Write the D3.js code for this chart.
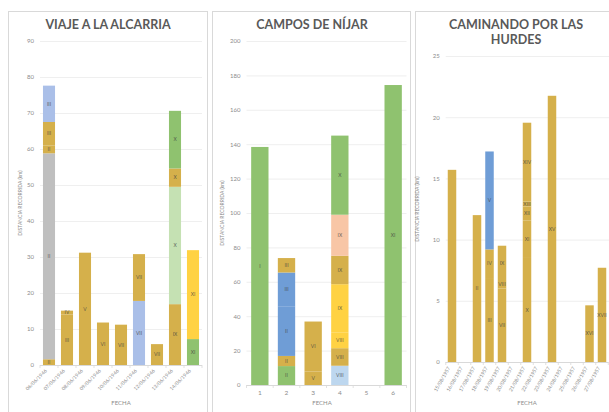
<!DOCTYPE html>
<html>
<head>
<meta charset="utf-8">
<script src="https://cdn.jsdelivr.net/npm/d3@7"></script>
<style>
  html, body { margin: 0; padding: 0; background: #ffffff; }
  svg { display: block; font-family: Lato, "Open Sans", sans-serif; }
</style>
</head>
<body>
<svg id="chart" width="609" height="412"></svg>
<script>
// ---------- DATA ----------
const alcarriaTitle = ["VIAJE A LA ALCARRIA"];
const nijarTitle = ["CAMPOS DE NÍJAR"];
const hurdesTitle = ["CAMINANDO POR LAS", "HURDES"];

const alcarriaDates = ["06/06/1946","07/06/1946","08/06/1946","09/06/1946","10/06/1946",
                       "11/06/1946","12/06/1946","13/06/1946","14/06/1946"];
const alcarriaTicks = [0,10,20,30,40,50,60,70,80,90];
// [date, km, chapter, group]
const alcarriaSegments = [
  ["06/06/1946", 1.6, "II", "gold"],
  ["06/06/1946", 57.2, "II", "gray"],
  ["06/06/1946", 2.2, "II", "gold"],
  ["06/06/1946", 6.5, "III", "gold"],
  ["06/06/1946", 10.1, "III", "lightblue"],
  ["07/06/1946", 14.0, "III", "gold"],
  ["07/06/1946", 1.1, "IV", "gold"],
  ["08/06/1946", 31.2, "V", "gold"],
  ["09/06/1946", 11.8, "VI", "gold"],
  ["10/06/1946", 11.2, "VII", "gold"],
  ["11/06/1946", 17.8, "VII", "lightblue"],
  ["11/06/1946", 13.0, "VII", "gold"],
  ["12/06/1946", 5.8, "VII", "gold"],
  ["13/06/1946", 16.9, "IX", "gold"],
  ["13/06/1946", 32.6, "X", "lightgreen"],
  ["13/06/1946", 5.1, "X", "gold"],
  ["13/06/1946", 16.0, "X", "green"],
  ["14/06/1946", 7.2, "XI", "green"],
  ["14/06/1946", 24.7, "XI", "yellow"]
];

const nijarDays = ["1","2","3","4","5","6"];
const nijarTicks = [0,20,40,60,80,100,120,140,160,180,200];
const nijarSegments = [
  ["1", 138.4, "I", "green"],
  ["2", 11.0, "II", "green"],
  ["2", 5.9, "II", "gold"],
  ["2", 28.9, "II", "blue"],
  ["2", 19.6, "III", "blue"],
  ["2", 8.4, "III", "gold"],
  ["3", 7.8, "V", "gold"],
  ["3", 29.1, "VI", "gold"],
  ["4", 11.2, "VIII", "paleblue"],
  ["4", 10.2, "VIII", "gold"],
  ["4", 9.0, "VIII", "yellow"],
  ["4", 28.2, "IX", "yellow"],
  ["4", 16.5, "IX", "gold"],
  ["4", 23.9, "IX", "peach"],
  ["4", 46.0, "X", "green"],
  ["6", 174.4, "XI", "green"]
];

const hurdesDates = ["15/08/1957","16/08/1957","17/08/1957","18/08/1957","19/08/1957",
                     "20/08/1957","21/08/1957","22/08/1957","23/08/1957","24/08/1957",
                     "25/08/1957","26/08/1957","27/08/1957"];
const hurdesTicks = [0,5,10,15,20,25];
const hurdesSegments = [
  ["15/08/1957", 15.7, "", "gold"],
  ["17/08/1957", 12.0, "II", "gold"],
  ["18/08/1957", 6.86, "III", "gold"],
  ["18/08/1957", 2.34, "IV", "gold"],
  ["18/08/1957", 8.0, "V", "blue"],
  ["19/08/1957", 6.0, "VII", "gold"],
  ["19/08/1957", 0.7, "VIII", "gold"],
  ["19/08/1957", 2.8, "IX", "gold"],
  ["21/08/1957", 8.5, "X", "gold"],
  ["21/08/1957", 3.05, "XI", "gold"],
  ["21/08/1957", 1.15, "XII", "gold"],
  ["21/08/1957", 0.4, "XIII", "gold"],
  ["21/08/1957", 6.45, "XIV", "gold"],
  ["23/08/1957", 21.75, "XV", "gold"],
  ["26/08/1957", 4.63, "XVI", "gold"],
  ["27/08/1957", 7.7, "XVII", "gold"]
];

const yAxisTitle = "DISTANCIA RECORRIDA (km)";
const xAxisTitle = "FECHA";

// ---------- STYLE ----------
const colors = {
  gold: "#d5b04b",
  gray: "#bfbfbf",
  lightblue: "#aabfe8",
  lightgreen: "#c5e1b3",
  green: "#8fc26f",
  yellow: "#ffd243",
  blue: "#6f9dd6",
  paleblue: "#bdd7ef",
  peach: "#f8c6a6"
};
const textGray = "#8c8c8c";
const titleGray = "#595959";

const svg = d3.select("#chart");

function panel(cfg) {
  const g = svg.append("g");
  // border
  g.append("rect")
    .attr("x", cfg.box[0] + 0.5).attr("y", cfg.box[1] + 0.5)
    .attr("width", cfg.box[2] - cfg.box[0]).attr("height", cfg.box[3] - cfg.box[1])
    .attr("fill", "#fff").attr("stroke", "#d9d9d9").attr("stroke-width", 1);

  // title
  const cx = cfg.titleX;
  cfg.title.forEach((t, i) => {
    g.append("text")
      .attr("x", cx).attr("y", 29 + i * 15)
      .attr("text-anchor", "middle")
      .attr("font-size", 12.5).attr("font-weight", 700)
      .attr("fill", titleGray)
      .text(t);
  });

  const x = d3.scaleBand().domain(cfg.cats).range(cfg.xRange)
    .paddingInner(cfg.pad).paddingOuter(cfg.pad / 2);
  const y = d3.scaleLinear().domain(cfg.yDomain).range(cfg.yRange);

  // gridlines
  g.append("g")
    .attr("transform", `translate(${cfg.xRange[0]},0)`)
    .call(d3.axisLeft(y).tickValues(cfg.ticks).tickSize(-(cfg.gridEnd - cfg.xRange[0])).tickFormat(""))
    .call(a => a.select(".domain").remove())
    .call(a => a.selectAll("line").attr("stroke", "#ebebeb").attr("stroke-width", 0.8));

  // y labels
  g.append("g")
    .attr("transform", `translate(${cfg.xRange[0]},0)`)
    .call(d3.axisLeft(y).tickValues(cfg.ticks).tickSize(0).tickPadding(6))
    .call(a => a.select(".domain").remove())
    .call(a => a.selectAll("text").attr("fill", textGray).attr("font-size", 6)
      .attr("font-family", "Lato, sans-serif"));

  // stacked bars
  const offsets = {};
  const segs = cfg.segments.map(s => {
    const start = offsets[s[0]] || 0;
    offsets[s[0]] = start + s[1];
    return { cat: s[0], y0: start, y1: start + s[1], label: s[2], group: s[3] };
  });
  g.append("g").selectAll("rect").data(segs).join("rect")
    .attr("x", d => x(d.cat))
    .attr("width", x.bandwidth())
    .attr("y", d => y(d.y1))
    .attr("height", d => y(d.y0) - y(d.y1))
    .attr("fill", d => colors[d.group]);
  g.append("g").selectAll("text").data(segs.filter(d => d.label)).join("text")
    .attr("x", d => x(d.cat) + x.bandwidth() / 2)
    .attr("y", d => y((d.y0 + d.y1) / 2))
    .attr("dy", "0.35em")
    .attr("text-anchor", "middle")
    .attr("font-size", 5)
    .attr("fill", "#404040").attr("fill-opacity", 0.8)
    .text(d => d.label);

  // x axis
  const baseY = cfg.yRange[0];
  g.append("line")
    .attr("x1", cfg.xRange[0]).attr("x2", cfg.xRange[1])
    .attr("y1", baseY + 0.5).attr("y2", baseY + 0.5)
    .attr("stroke", "#d9d9d9").attr("stroke-width", 1);
  const step = x.step();
  const bounds = cfg.cats.map(c => x(c) - (step - x.bandwidth()) / 2).concat([cfg.xRange[1]]);
  g.append("g").selectAll("line").data(bounds).join("line")
    .attr("x1", d => d).attr("x2", d => d)
    .attr("y1", baseY).attr("y2", baseY + 3)
    .attr("stroke", "#d9d9d9").attr("stroke-width", 0.8);

  const lab = g.append("g").selectAll("text").data(cfg.cats).join("text")
    .attr("font-size", cfg.xFont)
    .attr("fill", textGray)
    .text(d => d);
  if (cfg.rotate) {
    lab.attr("text-anchor", "end").attr("dy", "0.35em")
      .attr("transform", d => `translate(${x(d) + x.bandwidth() / 2 - 3},${baseY + 5}) rotate(${cfg.rotate})`);
  } else {
    lab.attr("text-anchor", "middle")
      .attr("x", d => x(d) + x.bandwidth() / 2)
      .attr("y", baseY + 10);
  }

  // axis titles
  g.append("text")
    .attr("x", cfg.xTitleX).attr("y", 405)
    .attr("text-anchor", "middle").attr("font-size", 6).attr("fill", textGray)
    .text(xAxisTitle);
  const ymid = (cfg.yRange[0] + cfg.yRange[1]) / 2;
  g.append("text")
    .attr("transform", `translate(${cfg.yTitleX},${ymid}) rotate(-90)`)
    .attr("text-anchor", "middle").attr("font-size", 5).attr("fill", textGray)
    .text(yAxisTitle);
}

panel({
  box: [8, 11, 207, 430], title: alcarriaTitle, titleX: 108,
  cats: alcarriaDates, segments: alcarriaSegments, ticks: alcarriaTicks,
  xRange: [40, 202], gridEnd: 202, pad: 0.33,
  yDomain: [0, 90], yRange: [365, 41],
  rotate: -45, xFont: 5, xTitleX: 121, yTitleX: 22
});
panel({
  box: [212, 11, 410, 430], title: nijarTitle, titleX: 312,
  cats: nijarDays, segments: nijarSegments, ticks: nijarTicks,
  xRange: [246.5, 406.5], gridEnd: 406.5, pad: 0.35,
  yDomain: [0, 200], yRange: [385, 41],
  rotate: 0, xFont: 6.5, xTitleX: 322, yTitleX: 224
});
panel({
  box: [415, 11, 640, 430], title: hurdesTitle, titleX: 516,
  cats: hurdesDates, segments: hurdesSegments, ticks: hurdesTicks,
  xRange: [445.75, 608.25], gridEnd: 609, pad: 0.32,
  yDomain: [0, 25], yRange: [362, 56],
  rotate: -60, xFont: 5, xTitleX: 527, yTitleX: 419
});
</script>
</body>
</html>
